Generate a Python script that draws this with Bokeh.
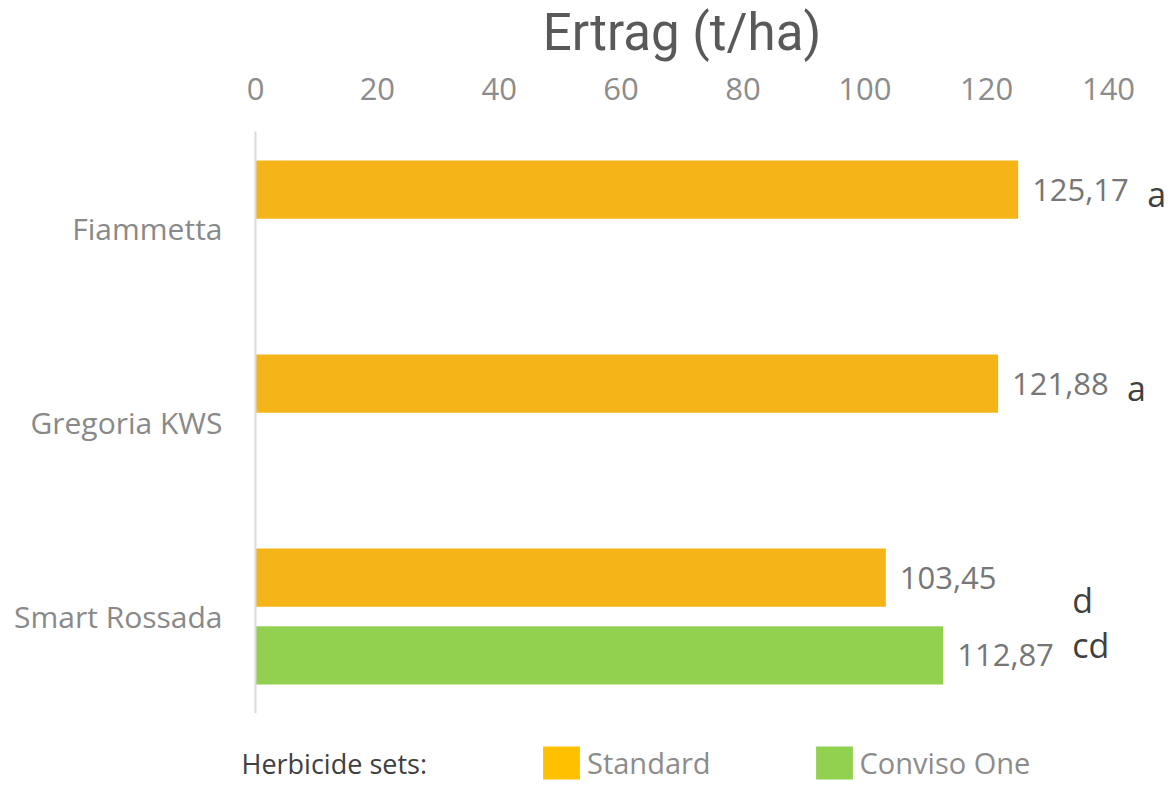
import math
from bokeh.plotting import figure
from bokeh.models import (ColumnDataSource, FactorRange, Range1d, FixedTicker,
                          Legend, LegendItem, Label)
from bokeh.layouts import column, row
from bokeh.transform import dodge
from bokeh.core.properties import value
from bokeh.embed import file_html
from bokeh.resources import INLINE

# ---- data ----
varieties = ["Fiammetta", "Gregoria KWS", "Smart Rossada"]
standard = [125.17, 121.88, 103.45]
conviso = [math.nan, math.nan, 112.87]
letters_standard = ["a", "a", "d"]
letters_conviso = ["", "", "cd"]
x_ticks = [0, 20, 40, 60, 80, 100, 120, 140]
series_names = ["Standard", "Conviso One"]
legend_title = "Herbicide sets:"
axis_title = "Ertrag (t/ha)"

ORANGE = "#F5B417"
ORANGE_LEG = "#FFC000"
GREEN = "#92D050"
FONT = "Open Sans"
W = 1166
LEFT = 255
PX_PER_UNIT = 853 / 140

def fmt(v):
    return "" if (v is None or (isinstance(v, float) and math.isnan(v))) else f"{v:.2f}".replace(".", ",")

std_src = ColumnDataSource(dict(cat=varieties, val=standard,
                                lab=[fmt(v) for v in standard]))
cv_cat = [c for c, v in zip(varieties, conviso) if not math.isnan(v)]
cv_val = [v for v in conviso if not math.isnan(v)]
cv_src = ColumnDataSource(dict(cat=cv_cat, val=cv_val, lab=[fmt(v) for v in cv_val]))

# letters positioned after the largest bar of each category
max_vals = [max(v for v in (s, c) if not math.isnan(v)) for s, c in zip(standard, conviso)]
two = [not math.isnan(c) for c in conviso]
let_std_src = ColumnDataSource(dict(cat=varieties, x=max_vals, lab=letters_standard,
                                    yo=[22 if t else 4 for t in two]))
lc_cat = [c for c, l in zip(varieties, letters_conviso) if l]
lc_x = [m for m, l in zip(max_vals, letters_conviso) if l]
lc_lab = [l for l in letters_conviso if l]
let_cv_src = ColumnDataSource(dict(cat=lc_cat, x=lc_x, lab=lc_lab, yo=[-10] * len(lc_lab)))

x_range = Range1d(0, (W - LEFT) / PX_PER_UNIT)

# ---- title strip ----
TH = 62
tfig = figure(width=W, height=TH, output_backend="svg", toolbar_location=None,
              x_range=x_range, y_range=Range1d(0, TH),
              x_axis_type=None, y_axis_type=None,
              min_border_left=LEFT, min_border_right=0, min_border_top=0,
              min_border_bottom=0)
tfig.outline_line_color = None
tfig.grid.visible = False
tfig.text(x=[(x_ticks[0] + x_ticks[-1]) / 2], y=[30.5], text=[axis_title],
          text_font=value("Roboto"), text_font_size="51px", text_color="#595959",
          text_align="center", text_baseline="middle")

# ---- main chart ----
p = figure(width=W, height=713 - TH, output_backend="svg", toolbar_location=None,
           y_range=FactorRange(factors=list(reversed(varieties))),
           x_range=x_range, x_axis_location="above",
           min_border_left=LEFT, min_border_right=0, min_border_top=131 - TH,
           min_border_bottom=0)
p.outline_line_color = None
p.xgrid.visible = False
p.ygrid.visible = False

BH = 0.3
p.hbar(y=dodge("cat", 0.2, range=p.y_range), right="val", left=0, height=BH,
       source=std_src, color=ORANGE, line_color=None)
p.hbar(y=dodge("cat", -0.2, range=p.y_range), right="val", left=0, height=BH,
       source=cv_src, color=GREEN, line_color=None)

for src, off in ((std_src, 0.2), (cv_src, -0.2)):
    p.text(x="val", y=dodge("cat", off, range=p.y_range), text="lab", source=src,
           x_offset=14, text_align="left", text_baseline="middle",
           text_font=value(FONT), text_font_size="31px", text_color="#767676")

for src, off in ((let_std_src, 0.2), (let_cv_src, -0.2)):
    p.text(x="x", y=dodge("cat", off, range=p.y_range), text="lab", source=src,
           x_offset=129, y_offset="yo", text_align="left", text_baseline="middle",
           text_font=value(FONT), text_font_size="34px", text_color="#404040")

xa = p.xaxis[0]
xa.ticker = FixedTicker(ticks=x_ticks)
xa.axis_line_color = None
xa.major_tick_line_color = None
xa.minor_tick_line_color = None
xa.major_label_text_font = FONT
xa.major_label_text_font_size = "31px"
xa.major_label_text_color = "#8C8C8C"
xa.major_label_standoff = 26

ya = p.yaxis[0]
ya.axis_line_color = "#D9D9D9"
ya.axis_line_width = 2
ya.major_tick_line_color = None
ya.minor_tick_line_color = None
ya.major_label_text_font = FONT
ya.major_label_text_font_size = "30px"
ya.major_label_text_color = "#898989"
ya.major_label_standoff = 27

# ---- legend strip ----
LH = 782 - 713
lfig = figure(width=W, height=LH, output_backend="svg", toolbar_location=None,
              x_range=Range1d(0, W), y_range=Range1d(0, LH),
              x_axis_type=None, y_axis_type=None,
              min_border_left=0, min_border_right=0, min_border_top=0,
              min_border_bottom=0)
lfig.outline_line_color = None
lfig.grid.visible = False
r1 = lfig.hbar(y=[0], left=[0], right=[0], height=1, color=ORANGE_LEG, line_color=None)
r2 = lfig.hbar(y=[0], left=[0], right=[0], height=1, color=GREEN, line_color=None)
legend = Legend(items=[LegendItem(label=series_names[0], renderers=[r1]),
                       LegendItem(label=series_names[1], renderers=[r2])],
                orientation="horizontal", location=(538, -1),
                label_text_font=FONT, label_text_font_size="29px",
                label_text_color="#8C8C8C", label_standoff=3,
                glyph_width=46, glyph_height=41, label_height=42,
                spacing=100, padding=0, margin=0,
                border_line_color=None, background_fill_alpha=0)
lfig.add_layout(legend, "center")
lfig.add_layout(Label(x=241, y=19, text=legend_title,
                      text_font=FONT, text_font_size="27px", text_color="#404040",
                      text_baseline="middle", text_align="left"))

layout = column(tfig, p, row(lfig), spacing=0)
open("out.html", "w").write(file_html(layout, INLINE))
